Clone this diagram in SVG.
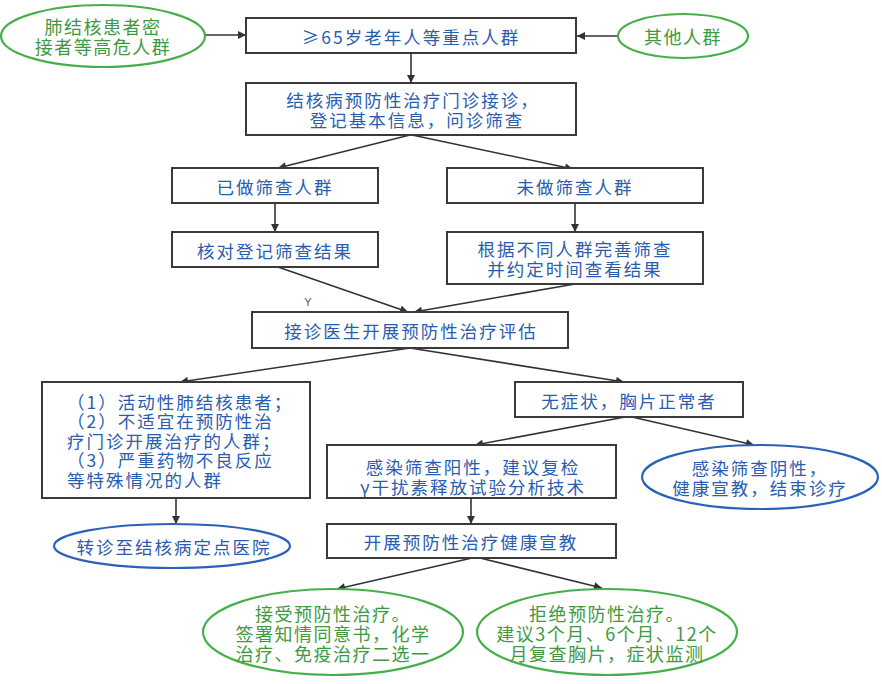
<svg xmlns="http://www.w3.org/2000/svg" width="882" height="684" viewBox="0 0 882 684">
<defs>
<marker id="ah" viewBox="0 0 10 10" refX="10" refY="5" markerWidth="9" markerHeight="8" markerUnits="userSpaceOnUse" orient="auto">
<path d="M0,0 L10,5 L0,10 z" fill="#333"/>
</marker>
</defs>
<style>
.box{fill:#fff;stroke:#3a3a3a;stroke-width:2}
.eg{fill:#fff;stroke:#45b04a;stroke-width:2.2}
.eb{fill:#fff;stroke:#2a62b8;stroke-width:2.2}
.t{font-family:"Noto Sans CJK SC","Noto Sans",sans-serif;font-size:17.5px;fill:#2a5db0;letter-spacing:2px;text-anchor:middle;dominant-baseline:central}
.tg{font-family:"Noto Sans CJK SC","Noto Sans",sans-serif;font-size:18px;fill:#3e9a42;letter-spacing:1.5px;text-anchor:middle;dominant-baseline:central}
.tl{text-anchor:start}
.c line{stroke:#333;stroke-width:1.6;marker-end:url(#ah)}
</style>
<rect width="882" height="684" fill="#fff"/>
<g class="c" id="connectors">
<line x1="205" y1="35" x2="246" y2="35"/>
<line x1="617" y1="36" x2="577" y2="36"/>
<line x1="411" y1="53" x2="411" y2="83"/>
<line x1="410" y1="135" x2="278" y2="168"/>
<line x1="412" y1="135" x2="573" y2="169"/>
<line x1="275" y1="203" x2="275" y2="232"/>
<line x1="575" y1="203" x2="575" y2="232"/>
<line x1="278" y1="267" x2="408" y2="312"/>
<line x1="575" y1="284" x2="414" y2="312"/>
<line x1="410" y1="348" x2="180" y2="382"/>
<line x1="410" y1="348" x2="624" y2="382"/>
<line x1="176" y1="498" x2="176" y2="524"/>
<line x1="625" y1="417" x2="475" y2="445"/>
<line x1="632" y1="417" x2="754" y2="445"/>
<line x1="471" y1="498" x2="471" y2="524"/>
<line x1="472" y1="558" x2="337" y2="589"/>
<line x1="480" y1="558" x2="602" y2="588"/>
</g>
<text x="308" y="302" font-family="Liberation Sans,sans-serif" font-size="11" fill="#555" text-anchor="middle" dominant-baseline="central">Y</text>
<g id="n-high">
<ellipse class="eg" cx="103" cy="36" rx="102" ry="31"/>
<text class="tg" x="103" y="26">肺结核患者密</text>
<text class="tg" x="103" y="46">接者等高危人群</text>
</g>
<g id="n-other">
<ellipse class="eg" cx="683" cy="36" rx="65" ry="22"/>
<text class="tg" x="683" y="36">其他人群</text>
</g>
<g id="n-key">
<rect class="box" x="246" y="18" width="330" height="35"/>
<text class="t" x="411" y="36">≥65岁老年人等重点人群</text>
</g>
<g id="n-clinic">
<rect class="box" x="246" y="83" width="330" height="52"/>
<text class="t" x="413" y="99">结核病预防性治疗门诊接诊，</text>
<text class="t" x="417" y="119">登记基本信息，问诊筛查</text>
</g>
<g id="n-done">
<rect class="box" x="172" y="168" width="206" height="35"/>
<text class="t" x="275" y="186">已做筛查人群</text>
</g>
<g id="n-notdone">
<rect class="box" x="447" y="168" width="256" height="35"/>
<text class="t" x="575" y="186">未做筛查人群</text>
</g>
<g id="n-verify">
<rect class="box" x="172" y="232" width="206" height="35"/>
<text class="t" x="275" y="250">核对登记筛查结果</text>
</g>
<g id="n-improve">
<rect class="box" x="447" y="232" width="256" height="52"/>
<text class="t" x="575" y="248">根据不同人群完善筛查</text>
<text class="t" x="575" y="268">并约定时间查看结果</text>
</g>
<g id="n-assess">
<rect class="box" x="252" y="312" width="316" height="36"/>
<text class="t" x="411" y="330">接诊医生开展预防性治疗评估</text>
</g>
<g id="n-exclude">
<rect class="box" x="42" y="382" width="268" height="116"/>
<text class="t tl" x="67" y="401">（1）活动性肺结核患者；</text>
<text class="t tl" x="67" y="420.5">（2）不适宜在预防性治</text>
<text class="t tl" x="67" y="440">疗门诊开展治疗的人群；</text>
<text class="t tl" x="67" y="459.5">（3）严重药物不良反应</text>
<text class="t tl" x="67" y="479">等特殊情况的人群</text>
</g>
<g id="n-normal">
<rect class="box" x="515" y="382" width="228" height="35"/>
<text class="t" x="629" y="400">无症状，胸片正常者</text>
</g>
<g id="n-positive">
<rect class="box" x="327" y="445" width="289" height="53"/>
<text class="t" x="473" y="466">感染筛查阳性，建议复检</text>
<text class="t" x="473" y="486">γ干扰素释放试验分析技术</text>
</g>
<g id="n-negative">
<ellipse class="eb" cx="760" cy="477" rx="118" ry="32"/>
<text class="t" x="760" y="467">感染筛查阴性，</text>
<text class="t" x="760" y="487">健康宣教，结束诊疗</text>
</g>
<g id="n-refer">
<ellipse class="eb" cx="172" cy="546" rx="118" ry="22"/>
<text class="t" x="174" y="546">转诊至结核病定点医院</text>
</g>
<g id="n-educate">
<rect class="box" x="327" y="524" width="289" height="34"/>
<text class="t" x="471" y="541">开展预防性治疗健康宣教</text>
</g>
<g id="n-accept">
<ellipse class="eg" cx="333" cy="632" rx="130" ry="43"/>
<text class="tg" x="333" y="613">接受预防性治疗。</text>
<text class="tg" x="333" y="633">签署知情同意书，化学</text>
<text class="tg" x="333" y="653">治疗、免疫治疗二选一</text>
</g>
<g id="n-refuse">
<ellipse class="eg" cx="607" cy="632" rx="130" ry="43"/>
<text class="tg" x="607" y="613">拒绝预防性治疗。</text>
<text class="tg" x="607" y="633">建议3个月、6个月、12个</text>
<text class="tg" x="607" y="653">月复查胸片，症状监测</text>
</g>
</svg>
